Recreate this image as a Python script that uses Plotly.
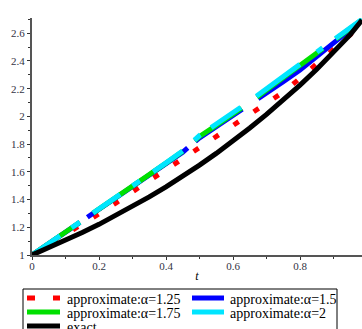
import plotly.graph_objects as go

# ---- data ----
t = [0.0, 0.05, 0.10, 0.15, 0.20, 0.25, 0.30, 0.35, 0.40, 0.45, 0.50,
     0.55, 0.60, 0.65, 0.70, 0.75, 0.80, 0.85, 0.90, 0.95, 0.985]

approx_125 = [1.000, 1.072, 1.150, 1.225, 1.297, 1.375, 1.460, 1.537, 1.615, 1.695, 1.770,
              1.858, 1.935, 2.020, 2.095, 2.175, 2.275, 2.380, 2.480, 2.590, 2.685]
approx_150 = [1.000, 1.082, 1.163, 1.245, 1.328, 1.411, 1.493, 1.575, 1.658, 1.742, 1.845,
              1.925, 2.000, 2.080, 2.160, 2.250, 2.335, 2.430, 2.525, 2.625, 2.695]
approx_175 = [1.000, 1.082, 1.163, 1.245, 1.330, 1.414, 1.497, 1.580, 1.663, 1.748, 1.855,
              1.935, 2.015, 2.100, 2.190, 2.280, 2.365, 2.455, 2.542, 2.635, 2.698]
approx_200 = [1.000, 1.082, 1.163, 1.245, 1.330, 1.414, 1.497, 1.580, 1.665, 1.752, 1.862,
              1.945, 2.025, 2.110, 2.200, 2.290, 2.375, 2.465, 2.550, 2.640, 2.700]
exact = [1.000, 1.051, 1.105, 1.162, 1.221, 1.284, 1.350, 1.419, 1.492, 1.568, 1.649,
         1.733, 1.822, 1.916, 2.014, 2.117, 2.226, 2.340, 2.460, 2.590, 2.695]

names = ["approximate:α=1.25", "approximate:α=1.5", "approximate:α=1.75",
         "approximate:α=2", "exact"]
series = [approx_125, approx_150, approx_175, approx_200, exact]

x_ticks = [0, 0.2, 0.4, 0.6, 0.8]
x_ticklabels = ["0", "0.2", "0.4", "0.6", "0.8"]
y_ticks = [1, 1.2, 1.4, 1.6, 1.8, 2, 2.2, 2.4, 2.6]
y_ticklabels = ["1", "1.2", "1.4", "1.6", "1.8", "2", "2.2", "2.4", "2.6"]

# ---- styles ----
colors = ["#ff0000", "#0000ff", "#00e000", "#00e5ff", "#000000"]
dashes = [
    "6px,18px",
    "58px,9px,122px,10px,57px,19px,138px",
    "58px,16px,109px,16px,57px,19px,82px,16px,40px",
    "34px,14px,10px,16px,33px,15px,9px,16px,36px,16px,8px,13px,36px,19px,54px,21px,7px,16px,40px",
    "solid",
]

fig = go.Figure()
for name, ys, col, dsh in zip(names, series, colors, dashes):
    fig.add_trace(go.Scatter(x=t, y=ys, mode="lines", name=name, showlegend=False,
                             line=dict(color=col, width=5, dash=dsh)))

serif = "Liberation Serif, Times New Roman, serif"
tickfont = dict(family=serif, size=11, color="#333344")

# ---- legend box (drawn in paper coordinates, 2 columns, partially cut at bottom) ----
PLOT_L, PLOT_B = 32, 255
PLOT_W, PLOT_H = 330.0, 237.0   # plot area in px
def px(xp):  # page x px -> paper
    return (xp - PLOT_L) / PLOT_W
def py(yp):  # page y px -> paper
    return (PLOT_B - yp) / PLOT_H

shapes = [dict(type="rect", xref="paper", yref="paper",
               x0=px(23), x1=px(337), y0=py(289), y1=py(360),
               line=dict(color="#000000", width=1), fillcolor="white", layer="above")]
annotations = []
legend_rows = [298, 312, 326]
legend_cols = [(27, 60, 65), (192, 224, 228)]
legend_dashes = ["8px,18px", "solid", "solid", "solid", "solid"]
for i, name in enumerate(names):
    r, c = divmod(i, 2)
    x0, x1, xt = legend_cols[c]
    yc = legend_rows[r]
    shapes.append(dict(type="line", xref="paper", yref="paper",
                       x0=px(x0), x1=px(x1), y0=py(yc), y1=py(yc), layer="above",
                       line=dict(color=colors[i], width=5, dash=legend_dashes[i])))
    annotations.append(dict(xref="paper", yref="paper", x=px(xt), y=py(yc + 1),
                            xanchor="left", yanchor="middle", showarrow=False,
                            text=name, font=dict(family=serif, size=14, color="#000000")))

fig.update_layout(
    width=362, height=329,
    margin=dict(l=32, r=0, t=18, b=74, autoexpand=False),
    paper_bgcolor="white", plot_bgcolor="white",
    showlegend=False,
    shapes=shapes, annotations=annotations,
    xaxis=dict(
        range=[0, 0.985], tickvals=x_ticks, ticktext=x_ticklabels,
        showgrid=False, zeroline=False, automargin=False,
        showline=True, linecolor="#555555", linewidth=2,
        ticks="outside", ticklen=3, tickwidth=1, tickcolor="#333333",
        ticklabelstandoff=-3,
        minor=dict(dtick=0.1, ticks="outside", ticklen=2, tickcolor="#333333", showgrid=False),
        tickfont=tickfont,
        title=dict(text="<i>t</i>", font=dict(family=serif, size=12, color="#000000"), standoff=0),
    ),
    yaxis=dict(
        range=[1, 2.71], tickvals=y_ticks, ticktext=y_ticklabels,
        showgrid=False, zeroline=False, automargin=False,
        showline=True, linecolor="#555555", linewidth=2,
        ticks="outside", ticklen=3, tickwidth=1, tickcolor="#333333",
        minor=dict(dtick=0.1, ticks="outside", ticklen=2, tickcolor="#333333", showgrid=False),
        tickfont=tickfont,
    ),
)

# remove the default 8px page margin so the 362x329 figure fills the window exactly
fig.write_html("out.html",
               config={"displayModeBar": False},
               post_script="document.body.style.margin='0';document.body.style.overflow='hidden';")
